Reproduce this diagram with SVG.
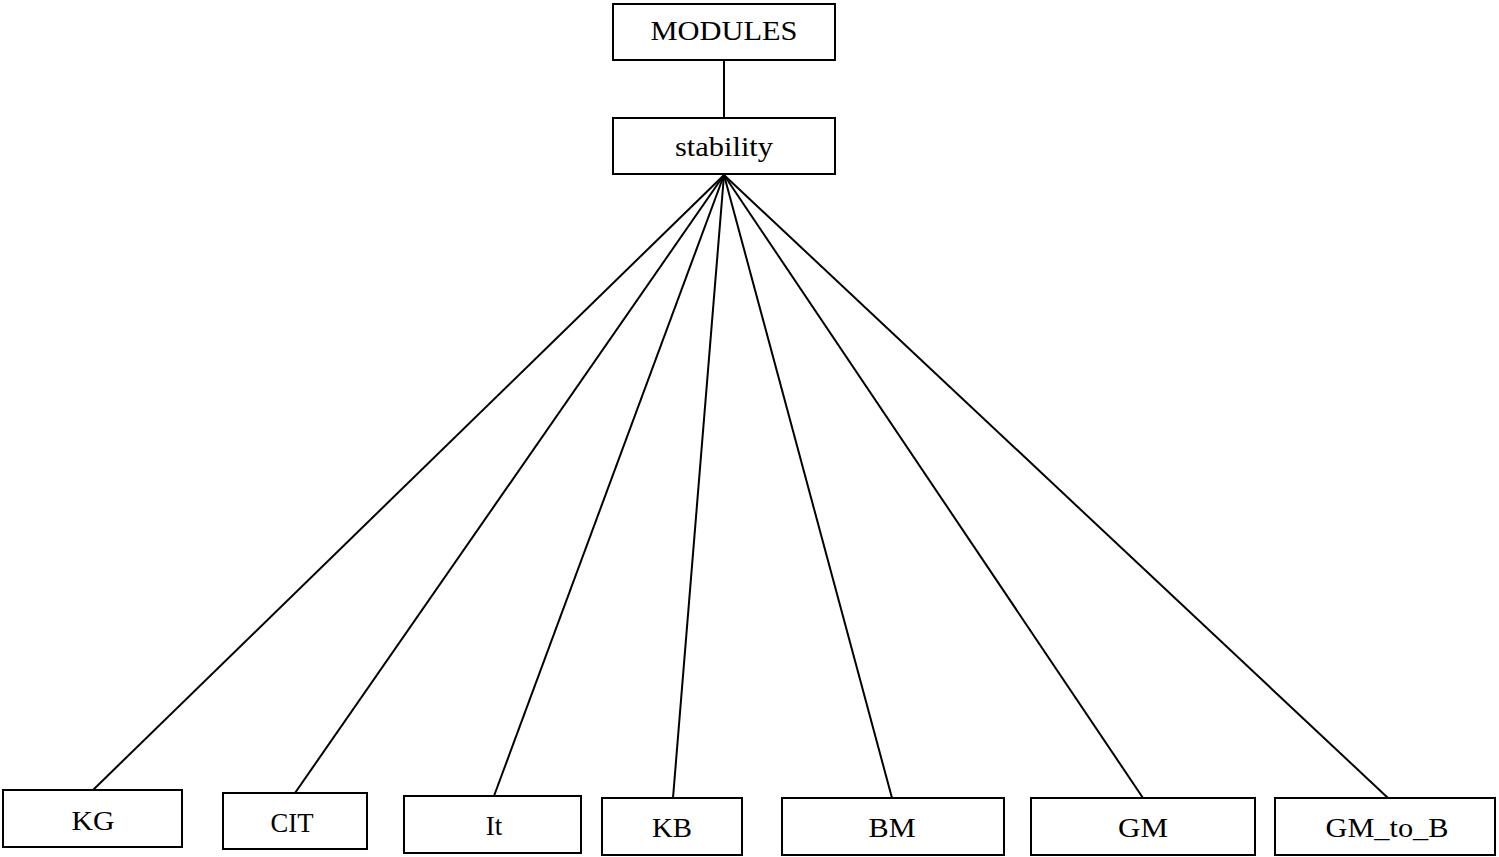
<svg xmlns="http://www.w3.org/2000/svg" width="1499" height="857" viewBox="0 0 1499 857">
<style>
.box{fill:#fff;stroke:#000;stroke-width:2}
.lbl{font-family:"Liberation Serif","Times New Roman",serif;font-size:27px;fill:#000;text-anchor:middle}
.conn line{stroke:#000;stroke-width:2}
</style>
<rect width="1499" height="857" fill="#fff"/>
<g id="connectors" class="conn">
<line x1="724" y1="60" x2="724" y2="118"/>
<line x1="724" y1="175" x2="93" y2="790"/>
<line x1="724" y1="175" x2="295" y2="793"/>
<line x1="724" y1="175" x2="494" y2="796"/>
<line x1="724" y1="175" x2="673" y2="798"/>
<line x1="724" y1="175" x2="892" y2="798"/>
<line x1="724" y1="175" x2="1143" y2="798"/>
<line x1="724" y1="175" x2="1388" y2="798"/>
</g>
<g id="modules"><rect class="box" x="613" y="4" width="222" height="56"/><text class="lbl" x="724" y="40" textLength="147" lengthAdjust="spacingAndGlyphs">MODULES</text></g>
<g id="stability"><rect class="box" x="613" y="118" width="222" height="56"/><text class="lbl" x="724" y="156" textLength="98" lengthAdjust="spacingAndGlyphs">stability</text></g>
<g id="KG"><rect class="box" x="3" y="790" width="179" height="57"/><text class="lbl" x="93" y="830" textLength="43" lengthAdjust="spacingAndGlyphs">KG</text></g>
<g id="CIT"><rect class="box" x="223" y="793" width="144" height="56"/><text class="lbl" x="292" y="832" textLength="43" lengthAdjust="spacingAndGlyphs">CIT</text></g>
<g id="It"><rect class="box" x="404" y="796" width="177" height="57"/><text class="lbl" x="494" y="835">It</text></g>
<g id="KB"><rect class="box" x="602" y="798" width="140" height="57"/><text class="lbl" x="672" y="837" textLength="40" lengthAdjust="spacingAndGlyphs">KB</text></g>
<g id="BM"><rect class="box" x="782" y="798" width="222" height="57"/><text class="lbl" x="892" y="837" textLength="47" lengthAdjust="spacingAndGlyphs">BM</text></g>
<g id="GM"><rect class="box" x="1031" y="798" width="224" height="57"/><text class="lbl" x="1143" y="837" textLength="50" lengthAdjust="spacingAndGlyphs">GM</text></g>
<g id="GM_to_B"><rect class="box" x="1275" y="798" width="220" height="57"/><text class="lbl" x="1387" y="837" textLength="123" lengthAdjust="spacingAndGlyphs">GM_to_B</text></g>
</svg>
